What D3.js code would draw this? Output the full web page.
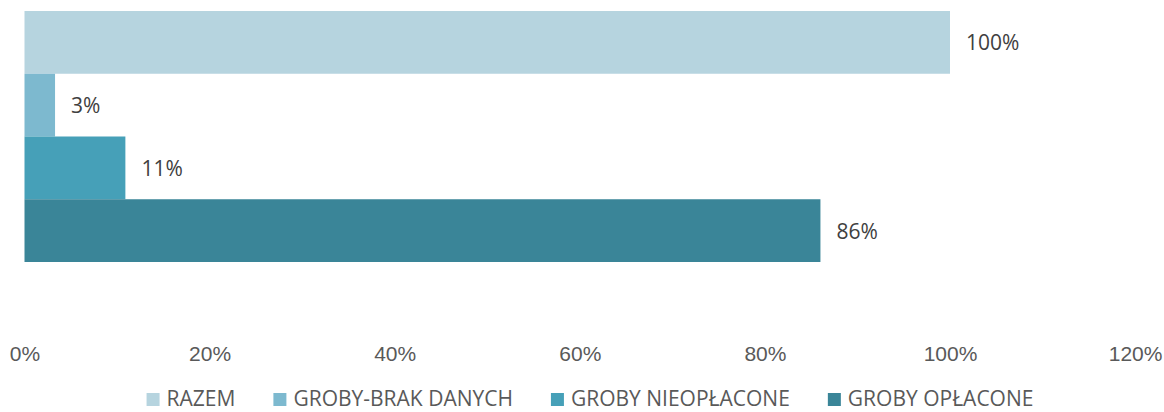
<!DOCTYPE html>
<html>
<head>
<meta charset="utf-8">
<script src="https://cdn.jsdelivr.net/npm/d3@7"></script>
<style>
  body { margin: 0; background: #fff; }
  svg { font-family: "Open Sans", sans-serif; }
  .tick text { fill: #595959; font-size: 21px; }
  .valueLabel { fill: #404040; font-size: 21px; }
  .legend text { fill: #595959; font-size: 21px; }
</style>
</head>
<body>
<script>
// Width and height
var w = 1164,
    h = 412;

// Data
var series = ['RAZEM', 'GROBY-BRAK DANYCH', 'GROBY NIEOPŁACONE', 'GROBY OPŁACONE'];
var values = [1.00, 0.033, 0.109, 0.86];
var colors = ['#b6d4df', '#7db9cf', '#46a0b8', '#3a8598'];
var xTicks = [0, 0.2, 0.4, 0.6, 0.8, 1.0, 1.2];

var formatPct = d3.format('.0%');

// Scales
var xScale = d3.scaleLinear()
               .domain([0, 1.2])
               .range([24.5, 24.5 + 925.5 * 1.2]);

var yScale = d3.scaleBand()
               .domain(series)
               .range([11, 262])
               .padding(0);

var color = d3.scaleOrdinal()
              .domain(series)
              .range(colors);

var svg = d3.select('body')
            .append('svg')
            .attr('width', w)
            .attr('height', h);

// Bars
svg.selectAll('rect.bar')
   .data(series)
   .enter()
   .append('rect')
   .attr('class', 'bar')
   .attr('x', xScale(0))
   .attr('y', function(d) { return yScale(d); })
   .attr('width', function(d, i) { return xScale(values[i]) - xScale(0); })
   .attr('height', yScale.bandwidth())
   .attr('fill', function(d) { return color(d); });

// Value labels
svg.selectAll('text.valueLabel')
   .data(series)
   .enter()
   .append('text')
   .attr('class', 'valueLabel')
   .attr('x', function(d, i) { return xScale(values[i]) + 16; })
   .attr('y', function(d) { return yScale(d) + yScale.bandwidth() / 2 + 8; })
   .text(function(d, i) { return formatPct(values[i]); });

// X axis (labels only)
var xAxis = d3.axisBottom()
              .scale(xScale)
              .tickValues(xTicks)
              .tickSize(0)
              .tickFormat(formatPct);

var axisG = svg.append('g')
               .attr('class', 'axis')
               .attr('transform', 'translate(0, 361)')
               .call(xAxis);

axisG.select('.domain').remove();
axisG.selectAll('text')
     .attr('y', 0)
     .attr('dy', 0)
     .attr('fill', null)
     .attr('font-size', null)
     .attr('font-family', null);

// Legend
var legend = svg.append('g').attr('class', 'legend');
var sq = 13, sqGap = 7, itemGap = 38;
var items = legend.selectAll('g')
                  .data(series)
                  .enter()
                  .append('g');

items.append('rect')
     .attr('width', sq)
     .attr('height', sq)
     .attr('y', -sq)
     .attr('fill', function(d) { return color(d); });

items.append('text')
     .attr('x', sq + sqGap)
     .attr('y', 0)
     .text(function(d) { return d; });

var offs = 0, positions = [];
items.each(function() {
  var tw = d3.select(this).select('text').node().getComputedTextLength();
  positions.push(offs);
  offs += sq + sqGap + tw + itemGap;
});
var total = offs - itemGap;
var startX = 590 - total / 2;
items.attr('transform', function(d, i) {
  return 'translate(' + (startX + positions[i]) + ', 406)';
});
</script>
</body>
</html>
